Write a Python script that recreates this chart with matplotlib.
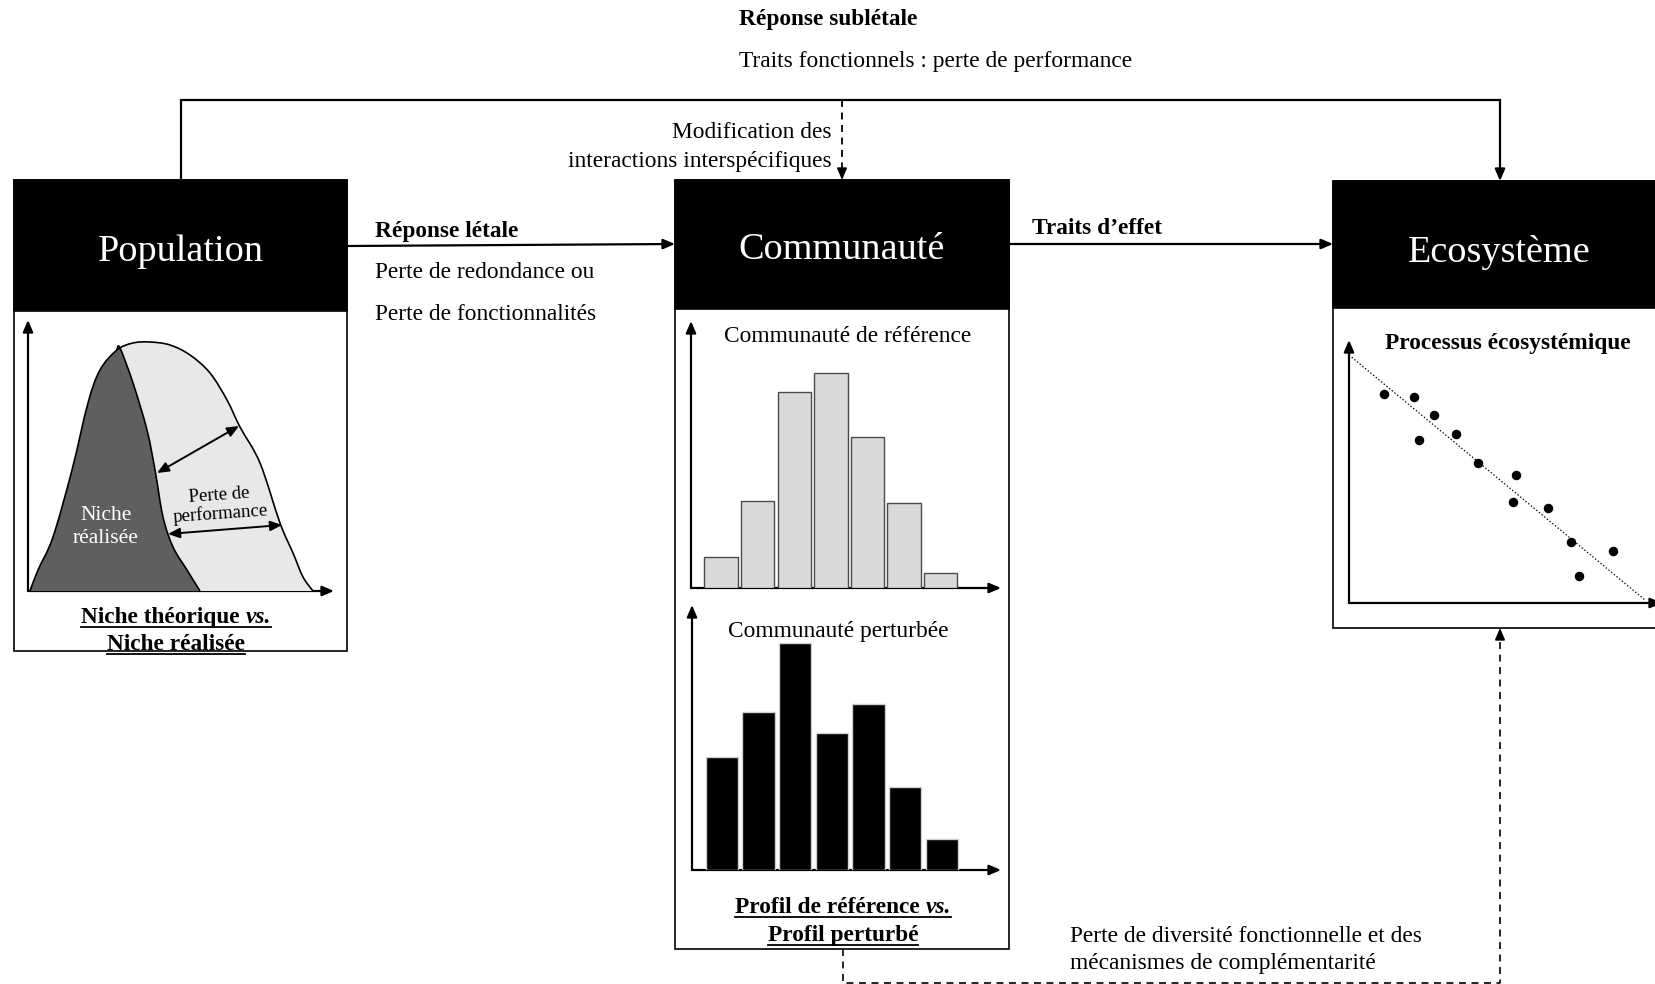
import numpy as np
import matplotlib
matplotlib.use("Agg")
import matplotlib.pyplot as plt
from matplotlib.patches import Rectangle, PathPatch
from matplotlib.path import Path

W, H, DPI = 1655, 984, 100
FONT = "Liberation Serif"

# ---------------- data ----------------
profile_ref = [31, 87, 196, 215, 151, 85, 15]        # Communauté de référence
profile_pert = [113, 158, 227, 137, 166, 83, 31]     # Communauté perturbée

eco_x = [35, 65, 85, 70, 107, 129, 167, 164, 199, 222, 264, 230]
eco_y = [209, 206, 188, 163, 169, 140, 128, 101, 95, 61, 52, 27]
trend_x = [0, 296]
trend_y = [248, 3]

niche_theo_x = [2, 10, 25, 44, 60, 72, 89, 105, 122, 142, 162, 182, 199, 212, 232, 252, 265, 275, 285]
niche_theo_y = [0, 21, 54, 121, 188, 221, 241, 248, 249, 246, 236, 218, 191, 164, 128, 68, 38, 14, 0]
niche_real_x = [2, 10, 25, 44, 60, 72, 89, 92, 105, 119, 127, 135, 145, 159, 172]
niche_real_y = [0, 21, 54, 121, 188, 221, 241, 243, 208, 161, 121, 74, 44, 21, 0]

plt.rcParams["lines.scale_dashes"] = False
fig = plt.figure(figsize=(W / DPI, H / DPI), dpi=DPI)
ax = fig.add_axes([0, 0, 1, 1])
ax.set_xlim(0, W)
ax.set_ylim(H, 0)
ax.axis("off")

BODY = 16.8
HEAD = 27.5
DY = 3  # vertical nudge for centred text


def sub_axes(x0, x1, ytop, ybot):
    a = fig.add_axes([x0 / W, 1 - ybot / H, (x1 - x0) / W, (ybot - ytop) / H])
    a.axis("off")
    a.patch.set_alpha(0)
    return a


def arrow(p0, p1, lw=1.6, ms=10):
    ax.annotate("", xy=p1, xytext=p0, annotation_clip=False,
                arrowprops=dict(arrowstyle="-|>,head_length=0.7,head_width=0.3",
                                mutation_scale=ms, lw=lw, color="black",
                                shrinkA=0, shrinkB=0))


def dbl_arrow(a, p0, p1):
    a.annotate("", xy=p1, xytext=p0, annotation_clip=False,
               arrowprops=dict(arrowstyle="<|-|>,head_length=0.7,head_width=0.3",
                               mutation_scale=10, lw=1.4, color="black",
                               shrinkA=0, shrinkB=0))


def box(x0, x1, ytop, yhead, ybot, title, ty):
    ax.add_patch(Rectangle((x0, ytop), x1 - x0, ybot - ytop, fill=False, ec="black", lw=1.2))
    ax.add_patch(Rectangle((x0, ytop), x1 - x0, yhead - ytop, fc="black", ec="black", lw=1.2))
    ax.text((x0 + x1) / 2, ty, title, color="white", fontsize=HEAD, family=FONT,
            ha="center", va="center")


def label(x, y, s, ha="left", weight="normal"):
    ax.text(x, y + DY, s, fontsize=BODY, family=FONT, weight=weight, ha=ha, va="center")


fig.canvas.draw()
renderer = fig.canvas.get_renderer()


def rich_line(xc, yb, pieces, size=BODY, underline=True):
    arts = []
    widths = []
    for txt, style in pieces:
        t = ax.text(0, yb, txt, fontsize=size, family=FONT, weight="bold",
                    style=style, ha="left", va="baseline")
        bb = t.get_window_extent(renderer)
        arts.append(t)
        widths.append(bb.width)
    total = sum(widths)
    x = xc - total / 2
    for t, w in zip(arts, widths):
        t.set_x(x)
        x += w
    if underline:
        ax.plot([xc - total / 2, xc + total / 2], [yb + 3.5, yb + 3.5], color="black", lw=1.3)


# ---------------- boxes ----------------
box(14, 347, 180, 311, 651, "Population", 252)
box(675, 1009, 180, 309, 949, "Communauté", 250)
box(1333, 1665, 181, 308, 628, "Ecosystème", 252)

# ---------------- connectors ----------------
ax.plot([181, 181, 1500], [180, 100, 100], color="black", lw=1.6, solid_joinstyle="miter")
arrow((1500, 100), (1500, 181))
ax.plot([842, 842], [100, 172], color="black", lw=1.3, dashes=(5, 4))
arrow((842, 170), (842, 180), lw=1.2)

arrow((347, 246), (675, 244))
arrow((1009, 244), (1333, 244))

ax.plot([843, 843, 1500, 1500], [949, 983, 983, 640], color="black", lw=1.2, dashes=(5, 4))
arrow((1500, 638), (1500, 628), lw=1.2)

# ---------------- labels ----------------
label(739, 17, "Réponse sublétale", weight="bold")
label(739, 58, "Traits fonctionnels : perte de performance")
label(832, 130, "Modification des", ha="right")
label(832, 159, "interactions interspécifiques", ha="right")
label(375, 228, "Réponse létale", weight="bold")
label(375, 270, "Perte de redondance ou")
label(375, 312, "Perte de fonctionnalités")
label(1032, 225, "Traits d\u2019effet", weight="bold")
label(1070, 933, "Perte de diversité fonctionnelle et des")
label(1070, 960, "mécanismes de complémentarité")

# ---------------- niche panel ----------------
def smooth_path(xs, ys, close=False):
    P = np.column_stack([xs, ys]).astype(float)
    n = len(P)
    verts = [P[0]]
    codes = [Path.MOVETO]
    for i in range(n - 1):
        p0 = P[i - 1] if i > 0 else P[i]
        p1 = P[i]
        p2 = P[i + 1]
        p3 = P[i + 2] if i + 2 < n else P[i + 1]
        c1 = p1 + (p2 - p0) / 6.0
        c2 = p2 - (p3 - p1) / 6.0
        verts += [c1, c2, p2]
        codes += [Path.CURVE4] * 3
    if close:
        verts.append(P[0])
        codes.append(Path.LINETO)
        verts.append(P[0])
        codes.append(Path.CLOSEPOLY)
    return Path(verts, codes)

na = sub_axes(28, 333, 322, 591)
na.set_xlim(0, 305)
na.set_ylim(0, 269)
na.add_patch(PathPatch(smooth_path(niche_theo_x, niche_theo_y, close=True), fc="#e8e8e8", ec="none"))
na.add_patch(PathPatch(smooth_path(niche_real_x, niche_real_y, close=True), fc="#5f5f5f", ec="none"))
na.add_patch(PathPatch(smooth_path(niche_theo_x, niche_theo_y), fc="none", ec="black", lw=1.2))
na.add_patch(PathPatch(smooth_path(niche_real_x[6:], niche_real_y[6:]), fc="none", ec="black", lw=1.2))
dbl_arrow(na, (129, 118), (211, 165))
dbl_arrow(na, (140, 57), (254, 66))
na.text(192, 86, "Perte de\nperformance", fontsize=13.5, family=FONT, ha="center",
        va="center", rotation=4, linespacing=1.1)
na.text(78, 64, "Niche\nréalisée", fontsize=15.5, family=FONT, color="white",
        ha="center", va="center", linespacing=1.3)

arrow((28, 591), (28, 320))
arrow((28, 591), (334, 591))
rich_line(176, 623, [("Niche théorique ", "normal"), ("vs.", "italic")])
rich_line(176, 650, [("Niche réalisée", "normal")])

# ---------------- community panels ----------------
idx = np.arange(len(profile_ref))
ra = sub_axes(691, 1000, 323, 588)
ra.set_xlim(-0.82, 7.62)
ra.set_ylim(0, 265)
ra.bar(idx, profile_ref, width=0.91, color="#dadada", edgecolor="#4a4a4a", lw=1.0)
arrow((691, 588), (691, 321))
arrow((691, 588), (1001, 588))
label(848, 333, "Communauté de référence", ha="center")

pa = sub_axes(692, 1000, 607, 870)
pa.set_xlim(-0.81, 7.59)
pa.set_ylim(0, 263)
pa.bar(idx, profile_pert, width=0.88, color="black", edgecolor="#d0d0d0", lw=1.0)
arrow((692, 870), (692, 605))
arrow((692, 870), (1001, 870))
label(838, 628, "Communauté perturbée", ha="center")

rich_line(843, 913, [("Profil de référence ", "normal"), ("vs.", "italic")])
rich_line(843, 941, [("Profil perturbé", "normal")])

# ---------------- ecosystem panel ----------------
ea = sub_axes(1349, 1655, 342, 603)
ea.set_xlim(0, 306)
ea.set_ylim(0, 261)
ea.plot(trend_x, trend_y, color="black", lw=0.9, ls=(0, (1, 1.5)))
ea.scatter(eco_x, eco_y, s=34, color="black", zorder=3)
arrow((1349, 603), (1349, 340))
arrow((1349, 603), (1662, 603))
label(1508, 340, "Processus écosystémique", ha="center", weight="bold")

fig.savefig("out.png", dpi=DPI)
